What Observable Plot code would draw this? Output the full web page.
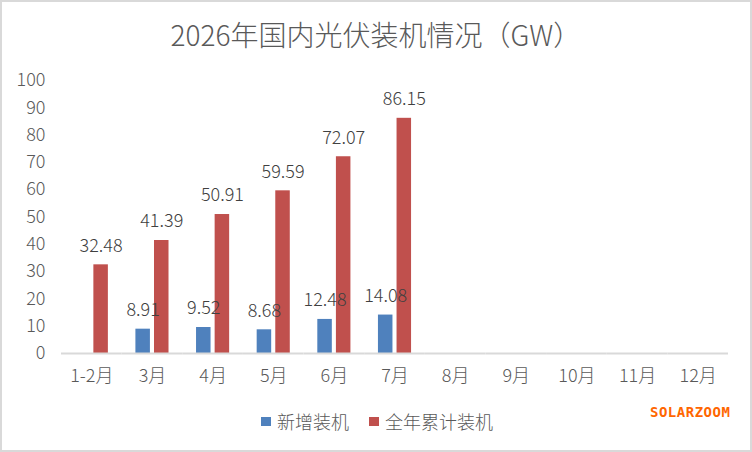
<!DOCTYPE html>
<html>
<head>
<meta charset="utf-8">
<script src="https://cdn.jsdelivr.net/npm/d3@7"></script>
<script src="https://cdn.jsdelivr.net/npm/@observablehq/plot@0.6"></script>
<style>
  body { margin: 0; background: #fff; }
  #box {
    position: relative; width: 752px; height: 452px; box-sizing: border-box;
    border: 2px solid #d9d9d9; background: #fff;
    font-family: "Noto Sans CJK SC", "Noto Sans", sans-serif; font-weight: 300; color: #595959;
  }
  #title { position: absolute; left: 0; top: 12px; width: 748px; text-align: center; font-size: 28px; }
  #chart { position: absolute; left: 0; top: 63px; }
  #legend { position: absolute; top: 406px; left: 259px; font-size: 18px; display: flex; align-items: center; }
  #legend .sw { display: inline-block; width: 10px; height: 9px; margin-right: 6px; }
  #legend .item { display: flex; align-items: center; margin-right: 20px; }
  #brand { position: absolute; left: 648px; top: 402px; font-family: "DejaVu Sans Mono", monospace; font-weight: bold; font-size: 14px; color: #ff6600; letter-spacing: 0.5px; }
</style>
</head>
<body>
<div id="box">
  <div id="title">2026年国内光伏装机情况（GW）</div>
  <div id="chart"></div>
  <div id="legend"></div>
  <div id="brand">SOLARZOOM</div>
</div>
<script>
const months = ["1-2月", "3月", "4月", "5月", "6月", "7月", "8月", "9月", "10月", "11月", "12月"];
const newAdded = [null, 8.91, 9.52, 8.68, 12.48, 14.08, null, null, null, null, null];
const cumulative = [32.48, 41.39, 50.91, 59.59, 72.07, 86.15, null, null, null, null, null];
const seriesNames = ["新增装机", "全年累计装机"];
const seriesColors = ["#4f81bd", "#c0504d"];

// long table built from the arrays above
const rows = [];
months.forEach((m, i) => {
  if (newAdded[i] != null) rows.push({month: m, series: seriesNames[0], value: newAdded[i]});
  if (cumulative[i] != null) rows.push({month: m, series: seriesNames[1], value: cumulative[i]});
});

const chart = Plot.plot({
  width: 748,
  height: 330,
  marginLeft: 59,
  marginRight: 22,
  marginTop: 15,
  marginBottom: 42,
  style: {fontFamily: "'Noto Sans CJK SC', sans-serif", fontWeight: 300, fontSize: "18px", color: "#595959", background: "transparent"},
  fx: {domain: months, padding: 0, round: false, label: null, tickSize: 0, tickPadding: 16},
  x: {domain: seriesNames, paddingInner: 0.22, paddingOuter: 0.74, round: false, axis: null},
  y: {domain: [0, 100], ticks: d3.range(0, 101, 10), label: null, tickSize: 0, tickPadding: 16},
  color: {domain: seriesNames, range: seriesColors},
  marks: [
    Plot.barY(rows, {fx: "month", x: "series", y: "value", fill: "series"}),
    // one baseline per month so that empty months keep their facet
    Plot.ruleY(months, {fx: d => d, y: 0, stroke: "#d9d9d9", strokeWidth: 2}),
    Plot.text(rows, {fx: "month", x: "series", y: "value", text: d => d.value.toFixed(2), dy: -19, fill: "#404040", fontSize: 18})
  ]
});
document.getElementById("chart").append(chart);

const legend = d3.select("#legend");
seriesNames.forEach((s, i) => {
  const item = legend.append("div").attr("class", "item");
  item.append("span").attr("class", "sw").style("background", seriesColors[i]);
  item.append("span").text(s);
});
</script>
</body>
</html>
